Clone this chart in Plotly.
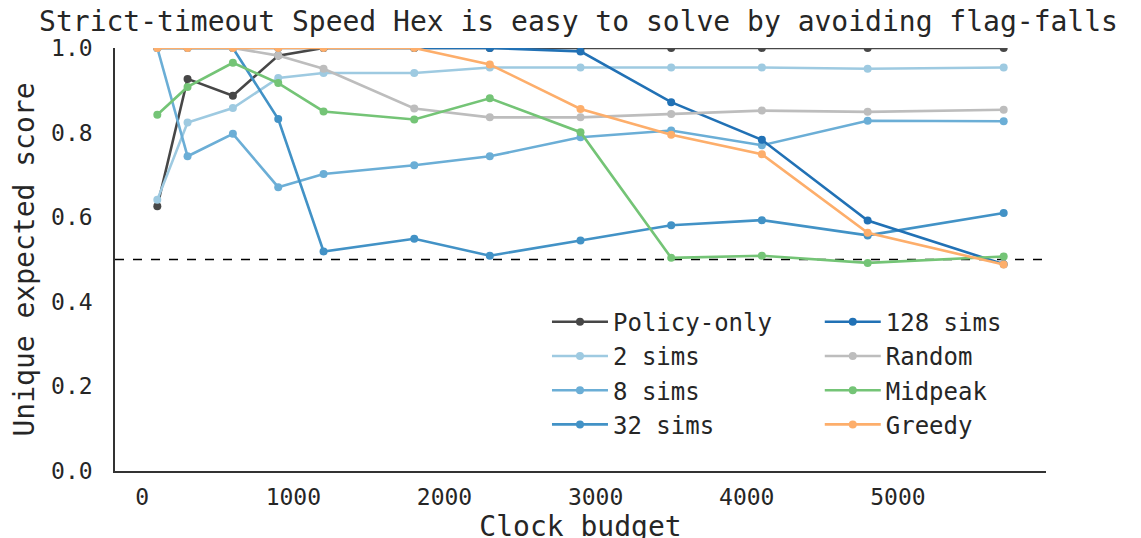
import plotly.graph_objects as go

budgets = [100, 300, 600, 900, 1200, 1800, 2300, 2900, 3500, 4100, 4800, 5700]

policy_only = [0.626, 0.927, 0.887, 0.982, 1.0, 1.0, 1.0, 1.0, 1.0, 1.0, 1.0, 1.0]
sims_2 = [0.641, 0.824, 0.858, 0.929, 0.941, 0.941, 0.954, 0.954, 0.954, 0.954, 0.951, 0.954]
sims_8 = [1.0, 0.744, 0.797, 0.671, 0.702, 0.723, 0.744, 0.789, 0.805, 0.770, 0.828, 0.827]
sims_32 = [1.0, 1.0, 1.0, 0.832, 0.519, 0.549, 0.509, 0.545, 0.581, 0.593, 0.557, 0.610]
sims_128 = [1.0, 1.0, 1.0, 1.0, 1.0, 1.0, 1.0, 0.992, 0.872, 0.783, 0.592, 0.489]
random_ = [1.0, 1.0, 1.0, 0.982, 0.951, 0.857, 0.836, 0.836, 0.844, 0.852, 0.849, 0.854]
midpeak = [0.842, 0.908, 0.965, 0.917, 0.850, 0.831, 0.881, 0.801, 0.504, 0.509, 0.492, 0.507]
greedy = [1.0, 1.0, 1.0, 1.0, 1.0, 1.0, 0.961, 0.856, 0.795, 0.749, 0.563, 0.488]

series_names = ["Policy-only", "2 sims", "8 sims", "32 sims", "128 sims", "Random", "Midpeak", "Greedy"]
series_values = [policy_only, sims_2, sims_8, sims_32, sims_128, random_, midpeak, greedy]
series_colors = ["#474747", "#9ecae1", "#6baed6", "#4292c6", "#2171b5", "#bdbdbd", "#74c476", "#fdae6b"]
series_legend = ["legend", "legend", "legend", "legend", "legend2", "legend2", "legend2", "legend2"]

baseline = 0.5
x_ticks = [0, 1000, 2000, 3000, 4000, 5000]
y_ticks = [0.0, 0.2, 0.4, 0.6, 0.8, 1.0]

FONT = "DejaVu Sans Mono"
TXT = "#262626"

fig = go.Figure()
for name, vals, col, leg in zip(series_names, series_values, series_colors, series_legend):
    fig.add_trace(go.Scatter(
        x=budgets, y=vals, name=name, mode="lines+markers",
        line=dict(color=col, width=2.6),
        marker=dict(color=col, size=8),
        legend=leg, cliponaxis=True,
    ))

fig.add_hline(y=baseline, line=dict(color="black", width=1.4, dash="dash"), layer="below")

legend_common = dict(
    font=dict(family=FONT, size=24, color=TXT),
    bgcolor="rgba(0,0,0,0)", borderwidth=0,
    xanchor="left", yanchor="top", orientation="v",
    itemwidth=56, tracegroupgap=0,
)

fig.update_layout(
    width=1141, height=538,
    margin=dict(l=107, r=103, t=40, b=75),
    paper_bgcolor="white", plot_bgcolor="white",
    font=dict(family=FONT, size=23, color=TXT),
    title=dict(
        text="Strict-timeout Speed Hex is easy to solve by avoiding flag-falls",
        font=dict(family=FONT, size=28, color=TXT),
        x=0.5, xanchor="center", y=0.993, yanchor="top",
    ),
    legend=dict(x=0.464, y=0.405, **legend_common),
    legend2=dict(x=0.757, y=0.405, **legend_common),
    xaxis=dict(
        range=[-180, 5980], tickvals=x_ticks, ticktext=[str(v) for v in x_ticks],
        showgrid=False, zeroline=False, showline=True, linecolor="#333333", linewidth=1.6,
        ticks="", ticklabelstandoff=5, automargin=False,
        tickfont=dict(family=FONT, size=23, color=TXT),
        title=dict(text="Clock budget", font=dict(family=FONT, size=28, color=TXT), standoff=2),
    ),
    yaxis=dict(
        range=[0, 1.0], tickvals=y_ticks, ticktext=[f"{v:.1f}" for v in y_ticks],
        showgrid=False, zeroline=False, showline=True, linecolor="#333333", linewidth=1.6,
        ticks="", ticklabelstandoff=16, automargin=False,
        tickfont=dict(family=FONT, size=23, color=TXT),
        title=dict(text="Unique expected score", font=dict(family=FONT, size=28, color=TXT), standoff=8),
    ),
    showlegend=True,
)

fig.write_html("out.html")
